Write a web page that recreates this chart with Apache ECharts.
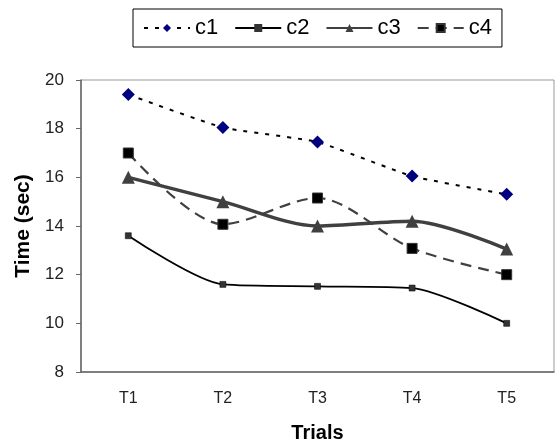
<!DOCTYPE html>
<html>
<head>
<meta charset="utf-8">
<script src="https://cdn.jsdelivr.net/npm/echarts@6/dist/echarts.min.js"></script>
<style>html,body{margin:0;padding:0;background:#fff}#c{width:557px;height:443px}</style>
</head>
<body>
<div id="c"></div>
<script>
const categories = ['T1', 'T2', 'T3', 'T4', 'T5'];
const c1 = [19.4, 18.05, 17.45, 16.05, 15.3];
const c2 = [13.6, 11.6, 11.52, 11.45, 10.0];
const c3 = [16.0, 15.0, 14.0, 14.2, 13.05];
const c4 = [17.0, 14.07, 15.15, 13.08, 12.0];
const yTicks = [8, 10, 12, 14, 16, 18, 20];

const FONT = "'Liberation Sans', Arial, sans-serif";
const chart = echarts.init(document.getElementById('c'), null, {renderer: 'canvas'});
chart.setOption({
  animation: false,
  backgroundColor: '#fff',
  textStyle: {fontFamily: FONT},
  legend: {
    left: 133, top: 9,
    padding: [8, 10],
    borderColor: '#000', borderWidth: 1,
    itemWidth: 46, itemHeight: 10, itemGap: 16,
    textStyle: {fontSize: 22, color: '#000', fontFamily: FONT},
    data: [
      {name: 'c1'},
      {name: 'c2', itemStyle: {borderWidth: 0}},
      {name: 'c3'},
      {name: 'c4'}
    ]
  },
  grid: {left: 81, right: 3, top: 80, bottom: 71, show: true, borderColor: '#999', borderWidth: 1,
    containLabel: false, outerBoundsMode: 'none'},
  xAxis: {
    type: 'category', data: categories, boundaryGap: true,
    name: 'Trials', nameLocation: 'middle', nameGap: 51,
    nameTextStyle: {fontSize: 20, fontWeight: 'bold', color: '#000', fontFamily: FONT},
    axisLine: {lineStyle: {color: '#666', width: 1.5}},
    axisTick: {length: 5, lineStyle: {color: '#666'}},
    axisLabel: {fontSize: 16, color: '#222', margin: 19, fontFamily: FONT}
  },
  yAxis: {
    type: 'value', min: yTicks[0], max: yTicks[yTicks.length - 1], interval: 2,
    name: 'Time (sec)', nameLocation: 'middle', nameGap: 46,
    nameTextStyle: {fontSize: 21, fontWeight: 'bold', color: '#000', fontFamily: FONT},
    axisLine: {show: true, lineStyle: {color: '#666', width: 1.5}},
    axisTick: {show: true, length: 5, lineStyle: {color: '#666'}},
    splitLine: {show: false},
    axisLabel: {fontSize: 17, color: '#222', margin: 17, fontFamily: FONT}
  },
  series: [
    {name: 'c1', type: 'line', data: c1, smooth: 0.15,
      symbol: 'diamond', symbolSize: 13,
      itemStyle: {color: '#000080'},
      lineStyle: {color: '#000', width: 2, type: [4, 7]}},
    {name: 'c2', type: 'line', data: c2, smooth: 0.25,
      symbol: 'rect', symbolSize: 6,
      itemStyle: {color: '#333', borderColor: '#000', borderWidth: 0.5},
      lineStyle: {color: '#000', width: 1.8}},
    {name: 'c3', type: 'line', data: c3, smooth: 0.3,
      symbol: 'triangle', symbolSize: 13,
      itemStyle: {color: '#404040'},
      lineStyle: {color: '#404040', width: 3.5}},
    {name: 'c4', type: 'line', data: c4, smooth: 0.3,
      symbol: 'rect', symbolSize: 10,
      itemStyle: {color: '#000', borderColor: '#333', borderWidth: 1},
      lineStyle: {color: '#404040', width: 2.2, type: [11, 7]}}
  ]
});
</script>
</body>
</html>
